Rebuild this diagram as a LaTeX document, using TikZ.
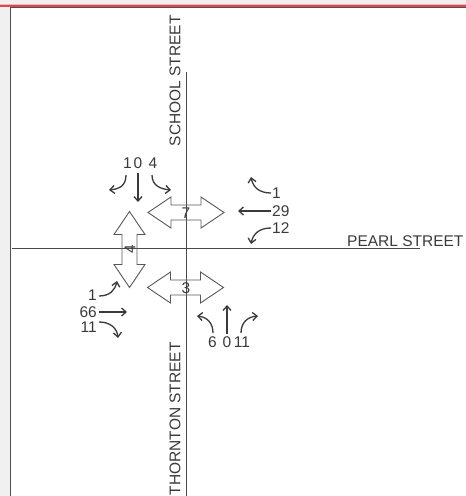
\documentclass[tikz,border=0pt]{standalone}
\usepackage{fontspec}
\setmainfont{Liberation Sans}
\usetikzlibrary{arrows.meta}
\definecolor{bgray}{HTML}{F0F0F0}
\definecolor{ink}{HTML}{3A3A3A}
\definecolor{road}{HTML}{4A4A4A}
\definecolor{redline}{HTML}{E04848}
\definecolor{frame}{HTML}{505050}
\tikzset{
  lbl/.style={inner sep=0pt, text=ink, font=\fontsize{15.5}{18}\selectfont},
  roadline/.style={draw=road, line width=1pt},
  ped/.style={draw=ink!85, line width=0.9pt, line join=miter},
  mv/.style={draw=ink, line width=1.3pt, -{Straight Barb[length=4.5pt,width=8pt]}},
  hped/.pic={\path[ped] (-38,0) -- (-15,-15.5) -- (-15,-7.5) -- (15,-7.5) -- (15,-15.5) -- (38,0) -- (15,15.5) -- (15,7.5) -- (-15,7.5) -- (-15,15.5) -- cycle;}
}
\begin{document}
\begin{tikzpicture}[x=1pt,y=-1pt]
\useasboundingbox (0,0) rectangle (466,496);
% screenshot frame
\fill[bgray] (0,0) rectangle (466,496);
\fill[white] (11,8) rectangle (466,496);
\fill[redline!40] (0,4) rectangle (466,5);
\fill[redline] (0,5) rectangle (466,6.6);
\draw[frame, line width=1.5pt] (10.5,496) -- (10.5,7.5) -- (466,7.5);
% streets
\coordinate (nTop) at (186,72);
\coordinate (nBot) at (186,496);
\coordinate (wEnd) at (12,248.5);
\coordinate (eEnd) at (420,248.5);
\draw[roadline] (nTop) -- (nBot);
\draw[roadline] (wEnd) -- (eEnd);
\node[lbl, rotate=90, anchor=east] (school) at (175,15) {SCHOOL STREET};
\node[lbl, rotate=90, anchor=east] (thornton) at (175,342) {THORNTON STREET};
\node[lbl, anchor=south west] (pearl) at (347,246.5) {PEARL STREET};
% pedestrian crossings
\pic at (186,212.5) {hped};
\node[lbl] (p7) at (186,213) {7};
\pic at (185.5,287.5) {hped};
\node[lbl] (p3) at (186,288) {3};
\pic[rotate=90] at (129.5,249.5) {hped};
\node[lbl, rotate=90] (p4) at (130,249.5) {4};
% southbound (top)
\node[lbl] (sR) at (127.5,163) {1};
\node[lbl] (sT) at (138,163) {0};
\node[lbl] (sL) at (153,163) {4};
\coordinate (sR1) at (126,175); \coordinate (sR2) at (109,190);
\coordinate (sT1) at (138,173); \coordinate (sT2) at (138,202);
\coordinate (sL1) at (152,175); \coordinate (sL2) at (171,190);
\draw[mv] (sR1) .. controls (126,186) and (119,189) .. (sR2);
\draw[mv] (sT1) -- (sT2);
\draw[mv] (sL1) .. controls (152,186) and (161,189) .. (sL2);
% westbound (right)
\node[lbl, anchor=west] (wR) at (272,193) {1};
\node[lbl, anchor=west] (wT) at (272,211) {29};
\node[lbl, anchor=west] (wL) at (272,228) {12};
\coordinate (wR1) at (271,193); \coordinate (wR2) at (251,177);
\coordinate (wT1) at (271,211); \coordinate (wT2) at (238,211);
\coordinate (wL1) at (271,228); \coordinate (wL2) at (251,244);
\draw[mv] (wR1) .. controls (259,193) and (253,187) .. (wR2);
\draw[mv] (wT1) -- (wT2);
\draw[mv] (wL1) .. controls (259,228) and (253,234) .. (wL2);
% eastbound (left)
\node[lbl, anchor=east] (eL) at (97,295.5) {1};
\node[lbl, anchor=east] (eT) at (97,312) {66};
\node[lbl, anchor=east] (eR) at (97,327) {11};
\coordinate (eL1) at (99,296); \coordinate (eL2) at (117,281);
\coordinate (eT1) at (99,312); \coordinate (eT2) at (127,312);
\coordinate (eR1) at (99,322); \coordinate (eR2) at (118,338);
\draw[mv] (eL1) .. controls (110,296) and (115,290) .. (eL2);
\draw[mv] (eT1) -- (eT2);
\draw[mv] (eR1) .. controls (110,322) and (117,328) .. (eR2);
% northbound (bottom)
\node[lbl] (nL) at (212.5,342) {6};
\node[lbl] (nT) at (227,342) {0};
\node[lbl] (nR) at (242,342) {11};
\coordinate (nL1) at (213,333); \coordinate (nL2) at (197,316);
\coordinate (nT1) at (227,334); \coordinate (nT2) at (227,305);
\coordinate (nR1) at (241,333); \coordinate (nR2) at (258,316);
\draw[mv] (nL1) .. controls (213,323) and (207,317) .. (nL2);
\draw[mv] (nT1) -- (nT2);
\draw[mv] (nR1) .. controls (241,323) and (247,317) .. (nR2);
\end{tikzpicture}
\end{document}
